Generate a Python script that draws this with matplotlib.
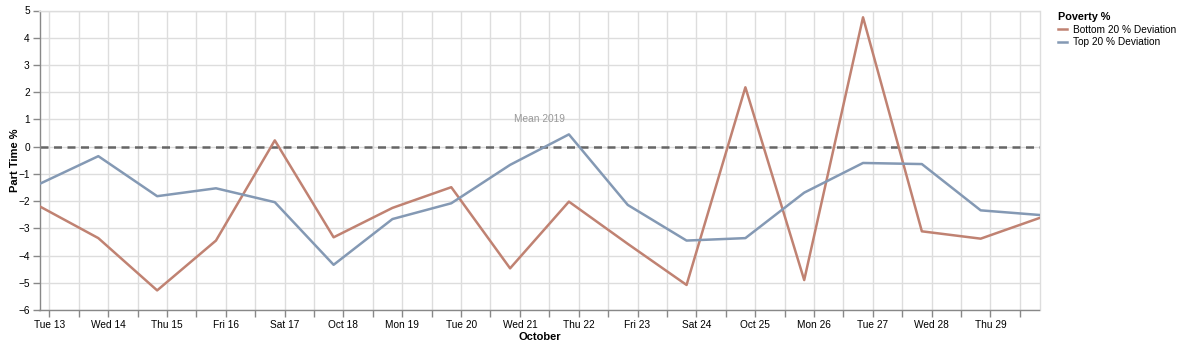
import numpy as np
import pandas as pd
import matplotlib
matplotlib.use("Agg")
import matplotlib.pyplot as plt
from matplotlib.lines import Line2D

plt.rcParams["font.family"] = ["Liberation Sans", "DejaVu Sans"]

# daily deviations from the 2019 mean (recorded 20:00 local the evening before)
dates = pd.date_range("2020-10-12 20:00", periods=18, freq="D")
bottom_20 = [-2.19, -3.36, -5.28, -3.45, 0.23, -3.33, -2.25, -1.49, -4.47,
             -2.02, -3.57, -5.08, 2.18, -4.90, 4.75, -3.11, -3.38, -2.62]
top_20 = [-1.37, -0.35, -1.82, -1.53, -2.04, -4.34, -2.66, -2.08, -0.67,
          0.45, -2.14, -3.45, -3.36, -1.69, -0.60, -0.64, -2.34, -2.51]
series_names = ["Bottom 20 % Deviation", "Top 20 % Deviation"]
series_colors = ["#c08272", "#8499b4"]
mean_value = 0.0
mean_label = "Mean 2019"

fig = plt.figure(figsize=(11.8, 3.47), dpi=100)
ax = fig.add_axes([39.5 / 1180, 37 / 347, 1000 / 1180, 299.5 / 347])

grid_c = "#dddddd"
axis_c = "#888888"

# half-day ticks, labels only at midnight
ticks = pd.date_range("2020-10-13", "2020-10-29 12:00", freq="12h")
labels = []
for t in ticks:
    if t.hour != 0:
        labels.append("")
    elif t.dayofweek == 6:
        labels.append(t.strftime("%b %d").replace(" 0", " "))
    else:
        labels.append(t.strftime("%a ") + str(t.day))

ax.set_xticks(ticks)
ax.set_xticklabels(labels)
ax.set_xlim(dates[0], dates[-1])
ax.set_ylim(-6, 5)
ax.set_yticks(np.arange(-6, 6, 1))
ax.set_yticklabels([str(v).replace("-", "\u2212") for v in range(-6, 6)])

ax.grid(True, color=grid_c, linewidth=1)
ax.set_axisbelow(True)
for side in ["top", "right"]:
    ax.spines[side].set_color(grid_c)
    ax.spines[side].set_linewidth(1)
for side in ["left", "bottom"]:
    ax.spines[side].set_color(axis_c)
    ax.spines[side].set_linewidth(1)
ax.tick_params(axis="both", colors=axis_c, length=5, width=1,
               labelcolor="black", labelsize=7.3, pad=2)

ax.axhline(mean_value, color="#666666", linewidth=1.8, linestyle=(0, (3.2, 2.2)),
           zorder=2)
ax.text(pd.Timestamp("2020-10-21 08:00"), 1.0, mean_label, color="#999999",
        fontsize=7.3, ha="center", va="center")

for vals, name, col in zip([bottom_20, top_20], series_names, series_colors):
    ax.plot(dates, vals, color=col, linewidth=1.8, label=name, zorder=3)

ax.set_ylabel("Part Time %", fontsize=8, fontweight="bold", labelpad=-1.5)
ax.set_xlabel("October", fontsize=8, fontweight="bold", labelpad=2)

handles = [Line2D([], [], color=c, linewidth=1.8) for c in series_colors]
leg = fig.legend(handles, series_names, loc="upper left",
                 bbox_to_anchor=(1050 / 1180, 1 - 4 / 347), frameon=False,
                 title="Poverty %", fontsize=7.3, title_fontsize=7.8,
                 handlelength=0.9, handletextpad=0.55, labelspacing=0.25,
                 borderpad=0.3, alignment="left")
leg.get_title().set_fontweight("bold")

fig.savefig("out.png", dpi=100)
